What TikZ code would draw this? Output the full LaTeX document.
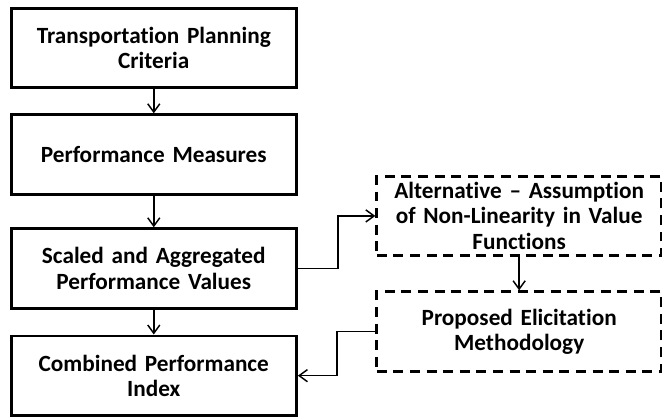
\documentclass[tikz,border=0pt]{standalone}
\usepackage{fontspec}
\setmainfont{Carlito}[Ligatures=NoCommon]
\usetikzlibrary{positioning, arrows.meta}

\begin{document}
\begin{tikzpicture}[
  font=\fontsize{17.5}{19}\selectfont\bfseries,
  stage/.style={draw, line width=2.2pt, align=center, minimum width=7.55cm, minimum height=2.1cm, text width=7.3cm},
  option/.style={stage, dash pattern=on 7.5pt off 5pt, minimum width=7.5cm},
  flow/.style={-{Straight Barb[length=2.2mm, width=3.2mm]}, line width=1.1pt}
]
\useasboundingbox (0,0) rectangle (17.52,-11.09);

% main column
\node[stage] (criteria) at (4.07,-1.27) {Transportation Planning\\Criteria};
\node[stage, below=0.64cm of criteria] (measures) {Performance Measures};
\node[stage, below=0.84cm of measures] (scaled) {Scaled and Aggregated\\Performance Values};
\node[stage, below=0.66cm of scaled] (combined) {Combined Performance\\Index};

% side branch (dashed)
\node[option, right=2.05cm of scaled, yshift=1.39cm] (alternative) {Alternative -- Assumption\\of Non-Linearity in Value\\Functions};
\node[option, below=0.88cm of alternative] (elicitation) {Proposed Elicitation\\Methodology};

% arrows down the column
\draw[flow] (criteria) -- (measures);
\draw[flow] (measures) -- (scaled);
\draw[flow] (scaled) -- (combined);
\draw[flow] (alternative) -- (elicitation);

% elbow connectors to and from the branch
\draw[flow] (scaled.east) -- ++(1.06cm,0) |- (alternative.west);
\draw[flow] (elicitation.west) -- ++(-1.02cm,0) |- (combined.east);

\end{tikzpicture}
\end{document}
